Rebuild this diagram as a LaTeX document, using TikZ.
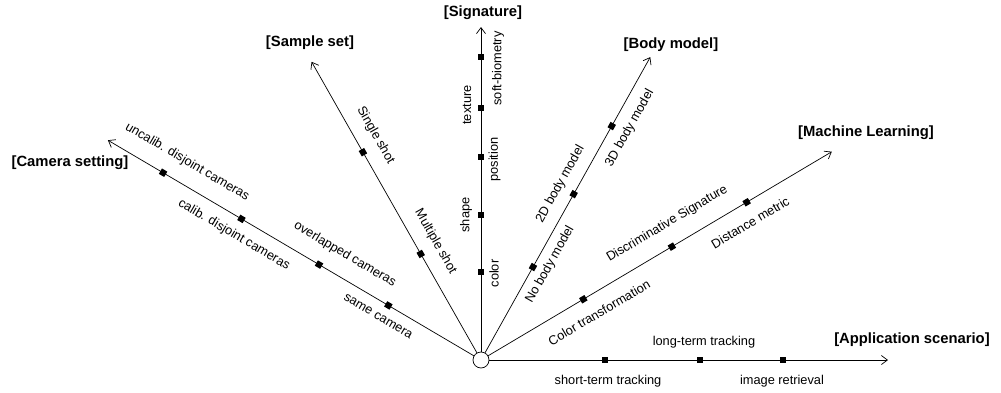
\documentclass[tikz,border=0pt]{standalone}
\usepackage{fontspec}
\setmainfont{Liberation Sans}
\usetikzlibrary{arrows.meta}

\tikzset{
  hub/.style={circle, draw, fill=white, inner sep=0pt, minimum size=16pt},
  tick/.style={fill=black, inner sep=0pt, minimum size=6.2pt, transform shape},
  item/.style={font=\fontsize{12.8pt}{15pt}\selectfont, inner sep=1pt, transform shape},
  dimlabel/.style={font=\fontsize{14.8pt}{17pt}\selectfont\bfseries, inner sep=1pt},
}

\begin{document}
\begin{tikzpicture}[x=1pt, y=1pt, line width=0.7pt, >={Straight Barb[length=6pt,width=9pt]}]
  \useasboundingbox (-481,-32) rectangle (520,360);
  \node[hub] (hub) at (0,0) {};

  % application scenario
  \begin{scope}[rotate=0]
    \coordinate (app) at (407,0);
    \draw[->] (hub) -- (app);
    \node[tick] (app1) at (124,0) {};
    \node[tick] (app2) at (219,0) {};
    \node[tick] (app3) at (302,0) {};
    \node[item] (app1l) at (127,-21) {short-term tracking};
    \node[item] (app2l) at (223,18) {long-term tracking};
    \node[item] (app3l) at (301,-21) {image retrieval};
  \end{scope}

  % machine learning
  \begin{scope}[rotate=30.7]
    \coordinate (ml) at (408,0);
    \draw[->] (hub) -- (ml);
    \node[tick] (ml1) at (119,0) {};
    \node[tick] (ml2) at (222,0) {};
    \node[tick] (ml3) at (309,0) {};
    \node[item] (ml1l) at (125.8,-19.6) {Color transformation};
    \node[item] (ml2l) at (229.6,22) {Discriminative Signature};
    \node[item] (ml3l) at (301.6,-19.4) {Distance metric};
  \end{scope}

  % body model
  \begin{scope}[rotate=60.8]
    \coordinate (body) at (347,0);
    \draw[->] (hub) -- (body);
    \node[tick] (body1) at (106.5,0) {};
    \node[tick] (body2) at (190,0) {};
    \node[tick] (body3) at (268,0) {};
    \node[item] (body1l) at (116.8,-13.8) {No body model};
    \node[item] (body2l) at (192.2,16.5) {2D body model};
    \node[item] (body3l) at (275,-16.8) {3D body model};
  \end{scope}

  % signature
  \begin{scope}[rotate=90]
    \coordinate (sig) at (333,0);
    \draw[->] (hub) -- (sig);
    \node[tick] (sig1) at (88,0) {};
    \node[tick] (sig2) at (145,0) {};
    \node[tick] (sig3) at (203,0) {};
    \node[tick] (sig4) at (252,0) {};
    \node[tick] (sig5) at (303,0) {};
    \node[item] (sig1l) at (86.5,-13) {color};
    \node[item] (sig2l) at (145,15) {shape};
    \node[item] (sig3l) at (200.5,-13.5) {position};
    \node[item] (sig4l) at (255,14) {texture};
    \node[item] (sig5l) at (291.5,-17) {soft-biometry};
  \end{scope}

  % sample set
  \begin{scope}[rotate=119.6]
    \coordinate (smp) at (343,0);
    \draw[->] (hub) -- (smp);
    \node[tick] (smp1) at (122,0) {};
    \node[tick] (smp2) at (239,0) {};
    \node[item, rotate=180] (smp1l) at (125.4,-19) {Multiple shot};
    \node[item, rotate=180] (smp2l) at (247.5,-19.3) {Single shot};
  \end{scope}

  % camera setting
  \begin{scope}[rotate=149.5]
    \coordinate (cam) at (433,0);
    \draw[->] (hub) -- (cam);
    \node[tick] (cam1) at (107.5,0) {};
    \node[tick] (cam2) at (188,0) {};
    \node[tick] (cam3) at (278,0) {};
    \node[tick] (cam4) at (369,0) {};
    \node[item, rotate=180] (cam1l) at (110.7,14.6) {same camera};
    \node[item, rotate=180] (cam2l) at (170.8,-21.8) {overlapped cameras};
    \node[item, rotate=180] (cam3l) at (276.4,17.5) {calib. disjoint cameras};
    \node[item, rotate=180] (cam4l) at (353.6,-21.5) {uncalib. disjoint cameras};
  \end{scope}

  % axis names
  \node[dimlabel] (camname) at (-411,197) {[Camera setting]};
  \node[dimlabel] (smpname) at (-171,317) {[Sample set]};
  \node[dimlabel] (signame) at (2,347) {[Signature]};
  \node[dimlabel] (bodyname) at (190,315) {[Body model]};
  \node[dimlabel] (mlname) at (385,227) {[Machine Learning]};
  \node[dimlabel] (appname) at (431,20) {[Application scenario]};
\end{tikzpicture}
\end{document}
